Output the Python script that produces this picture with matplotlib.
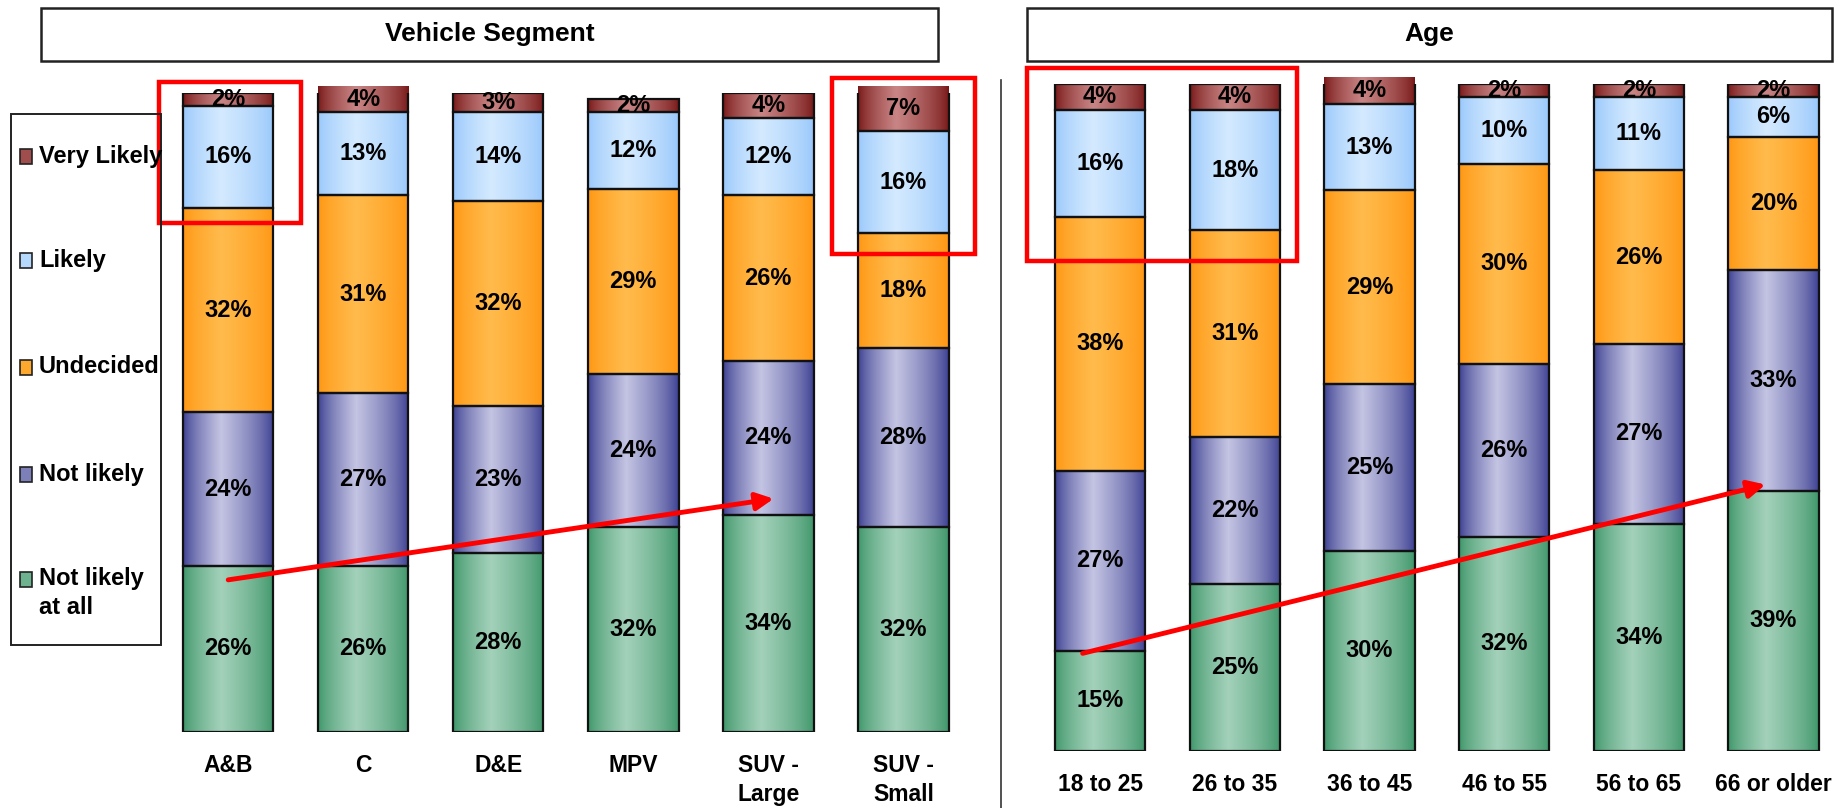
import numpy as np
import matplotlib
matplotlib.use("Agg")
import matplotlib.pyplot as plt
from matplotlib.patches import Rectangle
from matplotlib.colors import to_rgb

plt.rcParams['font.family'] = ['Liberation Sans', 'DejaVu Sans']
plt.rcParams['font.weight'] = 'bold'

# ---- data -------------------------------------------------------------
series = ["Not likely\nat all", "Not likely", "Undecided", "Likely", "Very Likely"]

segments = ["A&B", "C", "D&E", "MPV", "SUV -\nLarge", "SUV -\nSmall"]
seg_not_at_all = [26, 26, 28, 32, 34, 32]
seg_not_likely = [24, 27, 23, 24, 24, 28]
seg_undecided = [32, 31, 32, 29, 26, 18]
seg_likely = [16, 13, 14, 12, 12, 16]
seg_very = [2, 4, 3, 2, 4, 7]

ages = ["18 to 25", "26 to 35", "36 to 45", "46 to 55", "56 to 65", "66 or older"]
age_not_at_all = [15, 25, 30, 32, 34, 39]
age_not_likely = [27, 22, 25, 26, 27, 33]
age_undecided = [38, 31, 29, 30, 26, 20]
age_likely = [16, 18, 13, 10, 11, 6]
age_very = [4, 4, 4, 2, 2, 2]

# (edge colour, highlight colour) for each series' cylinder shading
shades = [
    ("#3a9466", "#a3d1ba"),
    ("#363a8e", "#c4c4e3"),
    ("#ff9510", "#ffbb4c"),
    ("#96c6fb", "#d4eaff"),
    ("#761414", "#c98585"),
]


def gradient(edge, centre, n=200):
    e = np.array(to_rgb(edge))
    c = np.array(to_rgb(centre))
    t = np.linspace(0, 1, n)
    peak = 0.42
    f = np.where(t < peak, t / peak, 1 - (t - peak) / (1 - peak))
    f = np.clip(f, 0, 1) ** 0.7
    rgb = e[None, :] + (c - e)[None, :] * f[:, None]
    return rgb[None, :, :]


def stacked(ax, labels, stacks, width=0.67):
    x = np.arange(len(labels))
    bottom = np.zeros(len(labels))
    for vals, (edge, centre) in zip(stacks, shades):
        vals = np.array(vals, dtype=float)
        bars = ax.bar(x, vals, width, bottom=bottom, facecolor="none",
                      edgecolor="#111111", linewidth=1.6, zorder=3)
        img = gradient(edge, centre)
        for bar, v, b in zip(bars, vals, bottom):
            x0 = bar.get_x()
            im = ax.imshow(img, extent=[x0, x0 + bar.get_width(), b, b + v],
                           aspect="auto", interpolation="bilinear", zorder=2)
            im.set_clip_path(bar)
            ax.text(bar.get_x() + bar.get_width() / 2, b + v / 2, f"{int(v)}%",
                    ha="center", va="center", fontsize=17, fontweight="bold",
                    zorder=4)
        bottom += vals
    for xi, lab in zip(x, labels):
        ax.text(xi, -3.4, lab, ha="center", va="top", fontsize=16.5,
                fontweight="bold", linespacing=1.35)
    ax.set_ylim(0, 100)
    ax.axis("off")


fig = plt.figure(figsize=(18.45, 8.08), dpi=100)

ax1 = fig.add_axes([0.0798, 0.0941, 0.4537, 0.791])
stacked(ax1, segments, [seg_not_at_all, seg_not_likely, seg_undecided, seg_likely, seg_very])
ax1.set_xlim(-0.6, 5.6)

ax2 = fig.add_axes([0.5525, 0.0709, 0.4453, 0.8256])
stacked(ax2, ages, [age_not_at_all, age_not_likely, age_undecided, age_likely, age_very])
ax2.set_xlim(-0.6, 5.5)

# highlight boxes
for ax, (x0, x1, y0, y1) in [(ax1, (-0.51, 0.54, 79.6, 101.7)),
                             (ax1, (4.47, 5.53, 74.8, 102.4)),
                             (ax2, (-0.54, 1.46, 73.4, 102.3))]:
    ax.add_patch(Rectangle((x0, y0), x1 - x0, y1 - y0, fill=False,
                           edgecolor="red", linewidth=3.2, zorder=6, clip_on=False))

# trend arrows
ax1.annotate("", xy=(4.04, 36.5), xytext=(0.0, 23.8),
             arrowprops=dict(arrowstyle="-|>", color="red", lw=3.5,
                             mutation_scale=26, shrinkA=0, shrinkB=0), zorder=7)
ax2.annotate("", xy=(4.94, 39.9), xytext=(-0.13, 14.6),
             arrowprops=dict(arrowstyle="-|>", color="red", lw=3.5,
                             mutation_scale=26, shrinkA=0, shrinkB=0), zorder=7)

# panel title boxes
W, H = 1845, 808
for (px0, px1), title in [((41, 938), "Vehicle Segment"), ((1027, 1832), "Age")]:
    fig.patches.append(Rectangle((px0 / W, (H - 61) / H), (px1 - px0) / W, 53 / H,
                                 transform=fig.transFigure, fill=False,
                                 edgecolor="#222222", linewidth=1.8))
    fig.text((px0 + px1) / 2 / W, (H - 34.5) / H, title, ha="center", va="center",
             fontsize=19, fontweight="bold")

# divider between panels
fig.add_artist(plt.Line2D([1001 / W, 1001 / W], [0, (H - 80) / H],
                          transform=fig.transFigure, color="#333333", linewidth=1.2))

# legend box
fig.patches.append(Rectangle((11 / W, (H - 645) / H), 150 / W, 531 / H,
                             transform=fig.transFigure, fill=False,
                             edgecolor="#222222", linewidth=1.4))
legend_y = [156.5, 260, 367, 474, 579]
order = list(zip(series, shades))[::-1]
for (name, (edge, centre)), py in zip(order, legend_y):
    mid = (np.array(to_rgb(edge)) + np.array(to_rgb(centre))) / 2
    fig.patches.append(Rectangle((20 / W, (H - py - 7.5) / H), 12 / W, 15 / H,
                                 transform=fig.transFigure, facecolor=mid,
                                 edgecolor="#222222", linewidth=1.2))
    multi = "\n" in name
    fig.text(39 / W, (H - py + (12 if multi else 0)) / H, name, ha="left",
             va="top" if multi else "center",
             fontsize=17, fontweight="bold", linespacing=1.35,
             transform=fig.transFigure)

fig.savefig("out.png", dpi=100, facecolor="white")
